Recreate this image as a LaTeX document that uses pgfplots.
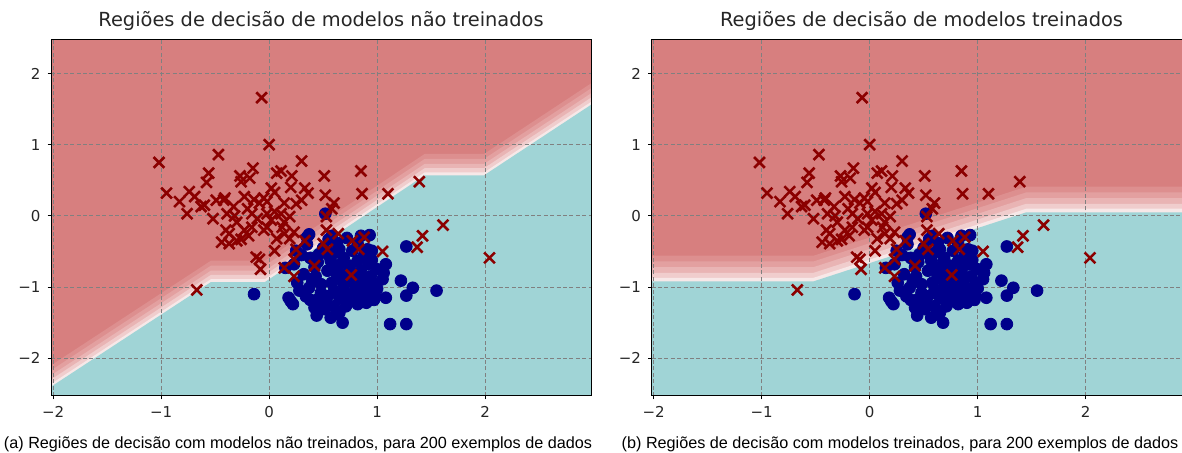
\documentclass[border=0pt]{standalone}
\usepackage{fontspec}
\setmainfont{DejaVu Sans}
\newfontfamily\capfont{Liberation Sans}
\usepackage{pgfplots}
\usepackage{pgfplotstable}
\pgfplotsset{compat=1.18}

\definecolor{regred}{RGB}{215,127,127}
\definecolor{regb1}{RGB}{221,143,143}
\definecolor{regb2}{RGB}{227,160,160}
\definecolor{regb3}{RGB}{233,180,180}
\definecolor{regb4}{RGB}{240,205,205}
\definecolor{regb5}{RGB}{247,232,232}
\definecolor{regcyan}{RGB}{160,212,214}
\definecolor{ptred}{RGB}{139,0,0}
\definecolor{ptblue}{RGB}{0,0,139}

% class 0 (crosses)
\pgfplotstableread{
x y
-0.07 1.66
0.00 1.00
-1.02 0.75
-0.47 0.86
-0.56 0.60
-0.58 0.47
-0.95 0.32
-0.83 0.20
-0.74 0.34
-0.69 0.27
-0.76 0.03
-0.60 0.15
-0.52 -0.04
-0.41 0.25
-0.33 0.13
-0.27 0.56
-0.26 0.48
-0.18 0.53
-0.15 0.67
0.07 0.60
0.11 0.63
0.21 0.56
0.30 0.77
0.51 0.56
0.85 0.63
0.86 0.31
1.10 0.31
1.39 0.48
0.52 0.29
0.60 0.18
0.33 0.39
0.36 0.32
0.30 0.22
0.25 0.17
0.14 0.18
0.05 0.33
0.02 0.39
-0.05 0.25
-0.09 0.18
-0.14 0.23
-0.23 0.27
-0.20 0.10
-0.32 0.00
-0.16 0.03
-0.02 0.03
0.05 0.06
0.02 -0.06
0.14 -0.09
0.23 -0.23
0.14 -0.25
0.07 -0.32
-0.05 -0.20
-0.16 -0.16
-0.23 -0.20
-0.30 -0.09
-0.40 -0.20
-0.44 -0.37
-0.37 -0.39
-0.30 -0.35
-0.19 -0.28
-0.12 -0.58
-0.09 -0.61
-0.08 -0.75
0.05 -0.49
0.14 -0.73
0.23 -0.61
0.25 -0.47
0.33 -0.35
0.42 -0.70
0.23 -0.85
0.50 -0.39
0.54 -0.47
0.64 -0.25
0.77 -0.35
0.83 -0.47
0.88 -0.30
0.76 -0.83
1.05 -0.50
1.37 -0.44
1.42 -0.28
1.61 -0.13
2.04 -0.59
-0.67 -1.04
0.53 -0.01
0.58 0.10
0.53 -0.20
0.19 -0.01
0.12 -0.16
-0.49 0.22
-0.42 0.22
-0.63 0.13
-0.02 0.20
0.11 0.03
-0.02 -0.16
0.19 -0.32
-0.11 -0.04
-0.39 0.03
-0.26 -0.33
-0.37 -0.25
0.20 0.40
}\reddata

% class 1 (dots)
\pgfplotstableread{
x y
0.52 0.03
0.37 -0.26
0.35 -0.40
0.25 -0.49
0.55 -0.33
0.63 -0.38
0.72 -0.31
0.85 -0.28
0.93 -0.27
0.65 -0.47
0.77 -0.49
0.91 -0.47
0.15 -0.73
0.23 -0.68
0.38 -0.59
0.46 -0.54
0.57 -0.63
0.69 -0.59
0.82 -0.63
0.92 -0.68
1.08 -0.68
1.06 -0.80
1.05 -0.89
0.32 -0.82
0.43 -0.85
0.54 -0.77
0.63 -0.73
0.72 -0.80
0.85 -0.77
0.94 -0.85
0.26 -0.94
0.37 -1.01
0.48 -0.96
0.58 -0.94
0.69 -0.96
0.78 -0.94
0.88 -0.99
0.98 -0.96
0.18 -1.15
0.22 -1.24
0.34 -1.13
0.45 -1.17
0.54 -1.13
0.65 -1.15
0.75 -1.13
0.86 -1.15
0.98 -1.13
1.08 -1.15
0.42 -1.29
0.51 -1.31
0.60 -1.27
0.71 -1.27
0.82 -1.24
0.57 -1.43
0.68 -1.50
0.65 -1.36
1.12 -1.52
1.27 -1.52
-0.14 -1.10
1.27 -0.43
0.95 -0.49
1.22 -0.91
1.33 -1.01
1.27 -1.12
1.55 -1.05
0.97 -1.18
0.20 -1.20
0.30 -0.55
0.42 -0.72
0.50 -0.45
0.60 -0.52
0.75 -0.70
0.88 -0.55
0.48 -1.08
0.60 -1.05
0.70 -1.06
0.80 -1.05
0.92 -1.08
0.52 -1.22
0.76 -1.20
0.90 -1.22
0.63 -0.85
0.75 -0.88
0.40 -0.92
0.28 -1.05
0.87 -0.90
1.00 -0.75
0.55 -0.55
0.68 -0.65
0.45 -0.65
0.62 -1.38
0.44 -1.40
0.82 -0.40
1.00 -1.02
0.35 -0.30
0.58 -0.28
0.70 -1.18
0.80 -0.85
0.95 -0.62
0.38 -1.18
}\bluedata

\pgfplotsset{
  regaxis/.style={
    set layers,
    scale only axis, width=270pt, height=178pt,
    xmin=-2.02, xmax=2.98, ymin=-2.53, ymax=2.47,
    xtick={-2,-1,0,1,2}, ytick={-2,-1,0,1,2},
    xticklabels={−2,−1,0,1,2}, yticklabels={−2,−1,0,1,2},
    tick align=outside, tick pos=left,
    major tick length=1.75pt,
    tick style={black, line width=0.5pt},
    axis line style={line width=0.5pt},
    grid=major,
    grid style={dash pattern=on 2pt off 1.2pt, black!50, line width=0.5pt},
    tick label style={font=\fontsize{7.5}{9}\selectfont, text=black!85},
    title style={font=\fontsize{9.7}{11}\selectfont, text=black!85,
      anchor=base, yshift=0.5pt},
  },
  regfill/.style={draw=none, fill=#1, on layer=axis background},
  crosses/.style={only marks, mark=x, mark size=3.8pt,
    mark options={ptred, line width=1.3pt}},
  dots/.style={only marks, mark=*, mark size=2.95pt,
    mark options={ptblue, draw=ptblue, fill=ptblue}},
}

\begin{document}
\begin{tikzpicture}

% left: untrained models
\begin{axis}[regaxis, at={(25.5pt,28.5pt)}, anchor=south west,
  title={Regiões de decisão de modelos não treinados}]
\addplot[regfill=regred] coordinates {(-2.02,-2.53) (-2.02,2.47) (2.98,2.47) (2.98,-2.53)};
\addplot[regfill=regb1] coordinates {(-2.02,-2.53) (-2.02,-2.10) (-0.54,-0.63) (-0.04,-0.63) (1.44,0.87) (1.99,0.87) (2.98,1.86) (2.98,-2.53)};
\addplot[regfill=regb2] coordinates {(-2.02,-2.53) (-2.02,-2.17) (-0.54,-0.70) (-0.04,-0.70) (1.44,0.80) (1.99,0.80) (2.98,1.79) (2.98,-2.53)};
\addplot[regfill=regb3] coordinates {(-2.02,-2.53) (-2.02,-2.24) (-0.54,-0.77) (-0.04,-0.77) (1.44,0.73) (1.99,0.73) (2.98,1.72) (2.98,-2.53)};
\addplot[regfill=regb4] coordinates {(-2.02,-2.53) (-2.02,-2.30) (-0.54,-0.83) (-0.04,-0.83) (1.44,0.67) (1.99,0.67) (2.98,1.66) (2.98,-2.53)};
\addplot[regfill=regb5] coordinates {(-2.02,-2.53) (-2.02,-2.36) (-0.54,-0.89) (-0.04,-0.89) (1.44,0.61) (1.99,0.61) (2.98,1.60) (2.98,-2.53)};
\addplot[regfill=regcyan] coordinates {(-2.02,-2.53) (-2.02,-2.40) (-0.54,-0.93) (-0.04,-0.93) (1.44,0.57) (1.99,0.57) (2.98,1.56) (2.98,-2.53)};
\addplot[dots] table[x=x, y=y] {\bluedata};
\addplot[crosses] table[x=x, y=y] {\reddata};
\end{axis}

% right: trained models
\begin{axis}[regaxis, at={(325.75pt,28.5pt)}, anchor=south west,
  title={Regiões de decisão de modelos treinados}]
\addplot[regfill=regred] coordinates {(-2.02,-2.53) (-2.02,2.47) (2.98,2.47) (2.98,-2.53)};
\addplot[regfill=regb1] coordinates {(-2.02,-2.53) (-2.02,-0.56) (-0.52,-0.56) (1.45,0.41) (2.98,0.41) (2.98,-2.53)};
\addplot[regfill=regb2] coordinates {(-2.02,-2.53) (-2.02,-0.64) (-0.52,-0.64) (1.45,0.33) (2.98,0.33) (2.98,-2.53)};
\addplot[regfill=regb3] coordinates {(-2.02,-2.53) (-2.02,-0.72) (-0.52,-0.72) (1.45,0.25) (2.98,0.25) (2.98,-2.53)};
\addplot[regfill=regb4] coordinates {(-2.02,-2.53) (-2.02,-0.80) (-0.52,-0.80) (1.45,0.17) (2.98,0.17) (2.98,-2.53)};
\addplot[regfill=regb5] coordinates {(-2.02,-2.53) (-2.02,-0.87) (-0.52,-0.87) (1.45,0.10) (2.98,0.10) (2.98,-2.53)};
\addplot[regfill=regcyan] coordinates {(-2.02,-2.53) (-2.02,-0.92) (-0.52,-0.92) (1.45,0.05) (2.98,0.05) (2.98,-2.53)};
\addplot[dots] table[x=x, y=y] {\bluedata};
\addplot[crosses] table[x=x, y=y] {\reddata};
\end{axis}

\node[font=\capfont\fontsize{8.1}{9}\selectfont, anchor=base] at (149pt,2pt)
  {(a) Regiões de decisão com modelos não treinados, para 200 exemplos de dados};
\node[font=\capfont\fontsize{8.1}{9}\selectfont, anchor=base] at (450pt,2pt)
  {(b) Regiões de decisão com modelos treinados, para 200 exemplos de dados};

\pgfresetboundingbox
\path[use as bounding box] (0,0) rectangle (591pt,226.5pt);
\end{tikzpicture}
\end{document}
